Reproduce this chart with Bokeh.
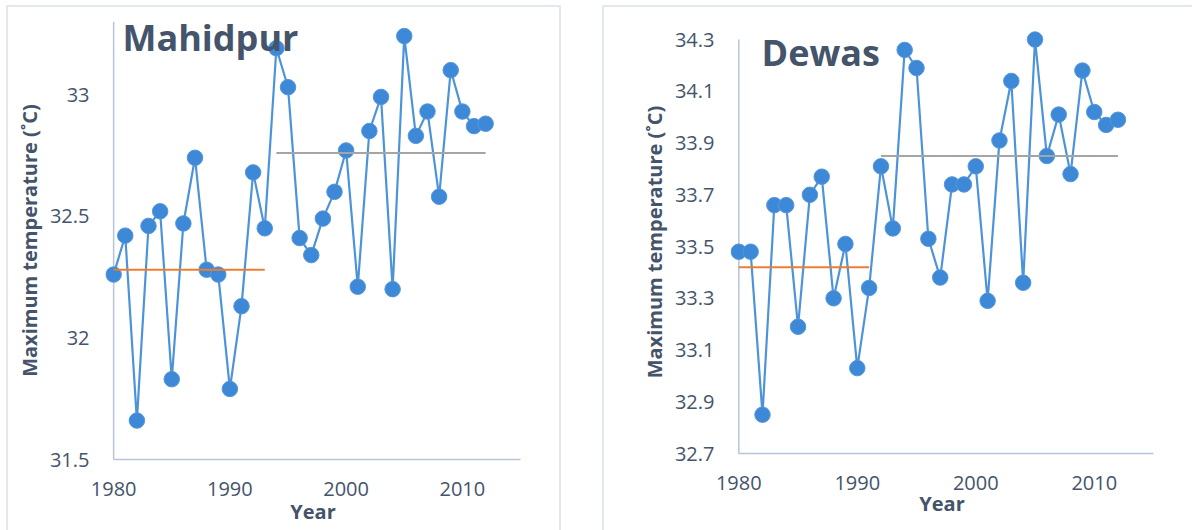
from bokeh.plotting import figure
from bokeh.layouts import row, column
from bokeh.models import Label, FixedTicker, NumeralTickFormatter, Range1d
from bokeh.embed import file_html
from bokeh.resources import INLINE

# ---------------- data ----------------
years = list(range(1980, 2013))

mahidpur = [32.26, 32.42, 31.66, 32.46, 32.52, 31.83, 32.47, 32.74, 32.28, 32.26,
            31.79, 32.13, 32.68, 32.45, 33.19, 33.03, 32.41, 32.34, 32.49, 32.60,
            32.77, 32.21, 32.85, 32.99, 32.20, 33.24, 32.83, 32.93, 32.58, 33.10,
            32.93, 32.87, 32.88]

dewas = [33.48, 33.48, 32.85, 33.66, 33.66, 33.19, 33.70, 33.77, 33.30, 33.51,
         33.03, 33.34, 33.81, 33.57, 34.26, 34.19, 33.53, 33.38, 33.74, 33.74,
         33.81, 33.29, 33.91, 34.14, 33.36, 34.30, 33.85, 34.01, 33.78, 34.18,
         34.02, 33.97, 33.99]

# mean of each period: [start year, end year], value
mahidpur_early_years = [1980, 1993]
mahidpur_early_mean = [32.28, 32.28]
mahidpur_late_years = [1994, 2012]
mahidpur_late_mean = [32.76, 32.76]

dewas_early_years = [1980, 1991]
dewas_early_mean = [33.42, 33.42]
dewas_late_years = [1992, 2012]
dewas_late_mean = [33.85, 33.85]

x_axis_bounds = (1980, 2015)
x_ticks = [1980, 1990, 2000, 2010]
mahidpur_ybounds = (31.5, 33.3)
mahidpur_yticks = [31.5, 32, 32.5, 33]
dewas_ybounds = (32.7, 34.3)
dewas_yticks = [32.7, 32.9, 33.1, 33.3, 33.5, 33.7, 33.9, 34.1, 34.3]

TEXT = "#44546A"
FONT = "Open Sans"
BLUE_LINE = "#4D93DA"
BLUE_FILL = "#3D89D8"
AXIS = "#B8C4D7"
PANEL = "#E3E8F0"


def make_panel(name, vals, early_x, early_y, late_x, late_y, ybounds, y_top_pad,
               yticks, yfmt, width, height, bl, br, bt, bb, title_x, title_y,
               xlabel_standoff, margin, shadow):
    p = figure(width=width, height=height, output_backend="svg",
               toolbar_location=None,
               x_range=Range1d(x_axis_bounds[0] - 0.7, x_axis_bounds[1]),
               y_range=Range1d(ybounds[0], ybounds[1] + y_top_pad),
               min_border_left=bl, min_border_right=br,
               min_border_top=bt, min_border_bottom=bb, margin=margin)
    p.outline_line_color = None
    p.grid.visible = False
    p.background_fill_color = None
    p.border_fill_color = None
    p.styles = {"box-shadow": shadow}

    for ax in (p.xaxis[0], p.yaxis[0]):
        ax.axis_line_color = AXIS
        ax.axis_line_width = 1.5
        ax.major_tick_line_color = None
        ax.minor_tick_line_color = None
        ax.major_tick_out = 0
        ax.major_tick_in = 0
        ax.major_label_text_font = FONT
        ax.major_label_text_font_size = "20px"
        ax.major_label_text_color = TEXT
        ax.axis_label_text_font = FONT
        ax.axis_label_text_font_style = "bold"
        ax.axis_label_text_color = TEXT

    p.xaxis.ticker = FixedTicker(ticks=x_ticks)
    p.xaxis.bounds = x_axis_bounds
    p.xaxis.axis_label = "Year"
    p.xaxis.axis_label_text_font_size = "20px"
    p.xaxis.major_label_standoff = 22
    p.xaxis.axis_label_standoff = xlabel_standoff

    p.yaxis.ticker = FixedTicker(ticks=yticks)
    p.yaxis.formatter = NumeralTickFormatter(format=yfmt)
    p.yaxis.axis_line_color = None
    p.yaxis.axis_label = "Maximum temperature (˚C)"
    p.yaxis.axis_label_text_font_size = "20px"
    p.yaxis.major_label_standoff = 16
    p.yaxis.axis_label_standoff = 4

    # vertical axis line crossing the x axis at the first year
    p.segment(x0=[x_axis_bounds[0]], y0=[ybounds[0]],
              x1=[x_axis_bounds[0]], y1=[ybounds[1]],
              line_color=AXIS, line_width=1.5)

    # series
    p.line(years, vals, line_color=BLUE_LINE, line_width=2.2)
    p.scatter(years, vals, size=15.5, fill_color=BLUE_FILL,
              line_color="#5596DA", line_width=1)

    # period means
    p.line(early_x, early_y, line_color="#ED7D31", line_width=2)
    p.line(late_x, late_y, line_color="#A5A5A5", line_width=2)

    p.add_layout(Label(x=title_x, y=title_y, x_units="screen", y_units="screen",
                       text=name, text_font=FONT, text_font_style="bold",
                       text_font_size="36px", text_color=TEXT,
                       text_baseline="alphabetic"))
    return p


p1 = make_panel("Mahidpur", mahidpur, mahidpur_early_years, mahidpur_early_mean,
                mahidpur_late_years, mahidpur_late_mean, mahidpur_ybounds, 0.0,
                mahidpur_yticks, "0.[0]", 555, 525, 99, 41, 16, 71, 17, 422,
                -1, (5, 0, 0, 6),
                f"inset 2px 2px 0 0 {PANEL}, inset -2px 0 0 0 {PANEL}")

p2 = make_panel("Dewas", dewas, dewas_early_years, dewas_early_mean,
                dewas_late_years, dewas_late_mean, dewas_ybounds, 0.035,
                dewas_yticks, "0.0", 590, 525, 128, 39, 25, 77, 31, 401,
                -3, (5, 0, 0, 41),
                f"inset 2px 2px 0 0 {PANEL}")

layout = row(column(p1), column(p2))
open("out.html", "w").write(file_html(layout, INLINE))
